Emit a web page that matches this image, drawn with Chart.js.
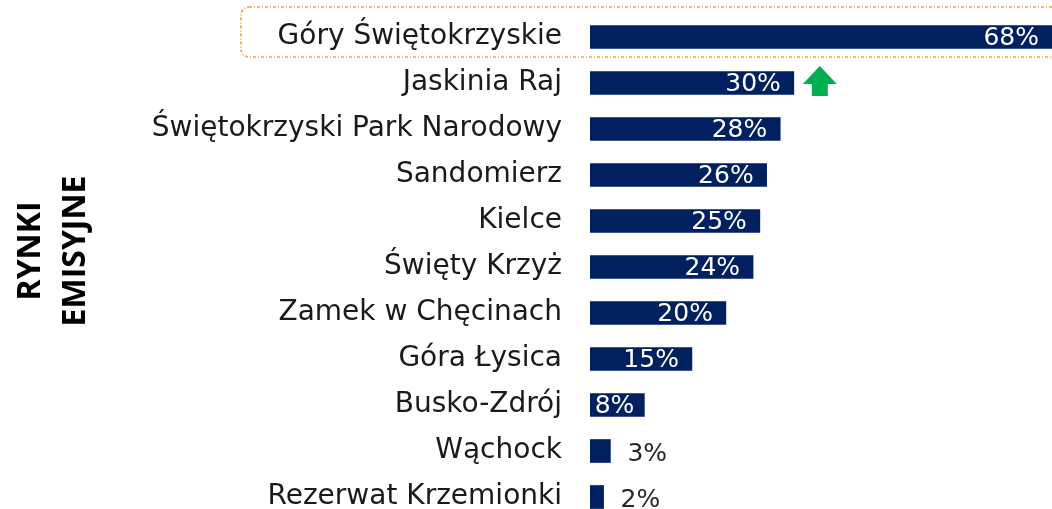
<!DOCTYPE html>
<html>
<head>
<meta charset="utf-8">
<script src="https://cdn.jsdelivr.net/npm/chart.js@4"></script>
<style>
  html, body { margin: 0; padding: 0; overflow: hidden; background: #fff; }
  #wrap { width: 1052px; height: 524px; position: relative; }
</style>
</head>
<body>
<div id="wrap"><canvas id="rankChart"></canvas></div>
<script>
const places = ['Góry Świętokrzyskie', 'Jaskinia Raj', 'Świętokrzyski Park Narodowy', 'Sandomierz', 'Kielce',
  'Święty Krzyż', 'Zamek w Chęcinach', 'Góra Łysica', 'Busko-Zdrój', 'Wąchock', 'Rezerwat Krzemionki'];
const shares = [68, 30, 28, 26, 25, 24, 20, 15, 8, 3, 2];
const sideTitle = ['RYNKI', 'EMISYJNE'];
const risingPlaces = ['Jaskinia Raj'];
const highlighted = ['Góry Świętokrzyskie'];

const navy = '#002060';

// value labels: white inside bar, dark outside for tiny bars
const valueLabels = {
  id: 'valueLabels',
  afterDatasetsDraw(chart) {
    const c = chart.ctx;
    const meta = chart.getDatasetMeta(0);
    c.save();
    c.font = '25px "DejaVu Sans"';
    c.textBaseline = 'middle';
    meta.data.forEach((bar, i) => {
      const v = shares[i];
      const txt = v + '%';
      if (v >= 8) {
        c.fillStyle = '#ffffff';
        c.textAlign = 'right';
        c.fillText(txt, bar.x - (v < 10 ? 10 : 13), bar.y + 1);
      } else {
        c.fillStyle = '#262626';
        c.textAlign = 'left';
        c.fillText(txt, bar.x + 17, bar.y + 3);
      }
    });
    c.restore();
  }
};

// dotted frame round the first row + green arrow for rising ones
const marks = {
  id: 'marks',
  afterDraw(chart) {
    const c = chart.ctx;
    const y = chart.scales.y;
    const meta = chart.getDatasetMeta(0);
    c.save();
    highlighted.forEach(name => {
      const cy = y.getPixelForValue(places.indexOf(name));
      c.strokeStyle = '#f3a23c';
      c.lineWidth = 1.6;
      c.setLineDash([3, 2, 1, 2]);
      c.beginPath();
      c.roundRect(241, cy - 30, 830, 50, 8);
      c.stroke();
    });
    c.setLineDash([]);
    risingPlaces.forEach(name => {
      const bar = meta.data[places.indexOf(name)];
      const x0 = bar.x + 9, cy = bar.y;
      c.fillStyle = '#00b050';
      c.beginPath();
      c.moveTo(x0 + 17, cy - 17);
      c.lineTo(x0 + 34, cy + 1);
      c.lineTo(x0 + 25, cy + 1);
      c.lineTo(x0 + 25, cy + 13);
      c.lineTo(x0 + 9, cy + 13);
      c.lineTo(x0 + 9, cy + 1);
      c.lineTo(x0, cy + 1);
      c.closePath();
      c.fill();
    });
    // rotated side title
    c.fillStyle = '#000000';
    c.font = 'bold 32px "Open Sans"';
    c.textAlign = 'center';
    c.textBaseline = 'middle';
    c.translate(0, 251);
    c.rotate(-Math.PI / 2);
    sideTitle.forEach((t, i) => c.fillText(t, 0, 31 + i * 45));
    c.restore();
  }
};

new Chart(document.getElementById('rankChart'), {
  type: 'bar',
  data: {
    labels: places,
    datasets: [{
      data: shares,
      backgroundColor: navy,
      borderWidth: 0,
      barThickness: 23
    }]
  },
  options: {
    indexAxis: 'y',
    responsive: true,
    maintainAspectRatio: false,
    animation: false,
    layout: { padding: { top: 14, bottom: 4, left: 0, right: 0 } },
    scales: {
      x: { display: false, min: 0, max: 68 },
      y: {
        grid: { display: false, drawTicks: false },
        border: { display: false },
        ticks: {
          color: '#1a1a1a',
          padding: 28,
          font: { family: '"DejaVu Sans"', size: 28 }
        },
        afterFit: s => {
          s.width = 590;
          s.paddingTop = 0;
          s.paddingBottom = 0;
        }
      }
    },
    plugins: {
      legend: { display: false },
      tooltip: { enabled: false }
    }
  },
  plugins: [valueLabels, marks]
});
</script>
</body>
</html>
